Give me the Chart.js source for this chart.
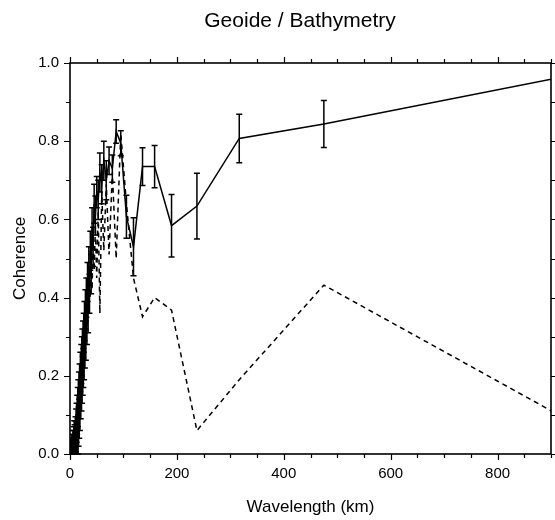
<!DOCTYPE html>
<html>
<head>
<meta charset="utf-8">
<script src="https://cdn.jsdelivr.net/npm/chart.js@4.4.1/dist/chart.umd.min.js"></script>
<style>
  html, body { margin: 0; padding: 0; background: #ffffff; }
  #wrap { width: 555px; height: 520px; }
</style>
</head>
<body>
<div id="wrap"><canvas id="c" width="555" height="520"></canvas></div>
<script>
const chartTitle = 'Geoide / Bathymetry';
// Wavelength (km) of each estimate
const wavelength = [
  950, 475, 316.7, 237.5, 190, 158.3, 135.7, 118.8, 105.6, 95.0,
  86.4, 79.2, 73.1, 67.9, 63.3, 59.4, 55.9, 52.8, 50.0, 47.5,
  45.2, 43.2, 41.3, 39.6, 38.0, 36.5, 35.2, 33.9, 32.8, 31.7,
  30.6, 29.7, 28.8, 27.9, 27.1, 26.4, 25.7, 25.0, 24.4, 23.8,
  23.2, 22.6, 22.1, 21.6, 21.1, 20.2, 19.4, 18.6, 17.9, 17.3,
  16.7, 16.1, 15.6, 15.1, 14.6, 14.0, 13.4, 12.8, 12.3, 11.9,
  11.4, 10.9, 10.4, 10.0, 9.5, 9.0, 8.6, 8.2, 7.8, 7.4,
  7.0, 6.6, 6.2, 5.8, 5.4, 5.0, 4.6, 4.2, 3.8, 3.4,
  3.0, 2.6, 2.2, 1.8, 1.4
];
// Solid curve (with error bars)
const coherence = [
  0.972, 0.844, 0.807, 0.634, 0.584, 0.735, 0.735, 0.53, 0.607, 0.795,
  0.825, 0.73, 0.75, 0.70, 0.75, 0.69, 0.72, 0.65, 0.67, 0.61,
  0.64, 0.53, 0.58, 0.46, 0.52, 0.41, 0.48, 0.36, 0.44, 0.33,
  0.40, 0.29, 0.37, 0.27, 0.34, 0.24, 0.31, 0.22, 0.29, 0.20,
  0.27, 0.18, 0.25, 0.16, 0.23, 0.14, 0.21, 0.11, 0.18, 0.09,
  0.16, 0.07, 0.14, 0.05, 0.12, 0.04, 0.10, 0.02, 0.08, 0.01,
  0.07, 0.00, 0.05, 0.00, 0.04, 0.00, 0.03, 0.00, 0.04, 0.00,
  0.03, 0.00, 0.02, 0.00, 0.02, 0.00, 0.01, 0.00, 0.01, 0.00,
  0.00, 0.00, 0.00, 0.00, 0.00
];
// Half-length of the error bar on the solid curve
const coherenceError = [
  0.06, 0.06, 0.062, 0.084, 0.08, 0.054, 0.048, 0.074, 0.055, 0.032,
  0.03, 0.035, 0.035, 0.05, 0.05, 0.05, 0.05, 0.05, 0.04, 0.05,
  0.05, 0.05, 0.05, 0.05, 0.05, 0.05, 0.05, 0.05, 0.05, 0.05,
  0.05, 0.05, 0.05, 0.05, 0.05, 0.05, 0.05, 0.05, 0.05, 0.05,
  0.05, 0.05, 0.05, 0.05, 0.05, 0.05, 0.05, 0.05, 0.05, 0.05,
  0.05, 0.05, 0.05, 0.05, 0.05, 0.05, 0.05, 0.05, 0.05, 0.05,
  0.045, 0.045, 0.045, 0.045, 0.045, 0.045, 0.045, 0.045, 0.045, 0.045,
  0.04, 0.04, 0.04, 0.04, 0.04, 0.04, 0.04, 0.04, 0.04, 0.04,
  0.04, 0.04, 0.04, 0.04, 0.04
];
// Dashed curve
const coherenceDashed = [
  0.073, 0.432, 0.19, 0.06, 0.368, 0.40, 0.351, 0.45, 0.64, 0.82,
  0.50, 0.72, 0.51, 0.69, 0.52, 0.67, 0.36, 0.62, 0.45, 0.58,
  0.47, 0.55, 0.42, 0.48, 0.40, 0.43, 0.38, 0.39, 0.37, 0.33,
  0.34, 0.32, 0.30, 0.29, 0.28, 0.26, 0.25, 0.24, 0.23, 0.22,
  0.21, 0.20, 0.19, 0.18, 0.17, 0.16, 0.15, 0.13, 0.12, 0.11,
  0.10, 0.09, 0.08, 0.07, 0.07, 0.06, 0.05, 0.04, 0.03, 0.03,
  0.02, 0.01, 0.01, 0.00, 0.00, 0.00, 0.00, 0.00, 0.00, 0.00,
  0.00, 0.00, 0.00, 0.00, 0.00, 0.00, 0.00, 0.00, 0.00, 0.00,
  0.00, 0.00, 0.00, 0.00, 0.00
];
const xTickLabels = [0, 200, 400, 600, 800];
const yTickLabels = [0.0, 0.2, 0.4, 0.6, 0.8, 1.0];

const FONT = "'Liberation Sans', Arial, Helvetica, sans-serif";

const solidPts = wavelength.map((w, i) => ({ x: w, y: coherence[i] }));
const dashedPts = wavelength.map((w, i) => ({ x: w, y: coherenceDashed[i] }));

const errorBarPlugin = {
  id: 'errorBars',
  afterDatasetsDraw(chart) {
    const { ctx, chartArea, scales } = chart;
    const xs = scales.x, ys = scales.y;
    ctx.save();
    ctx.beginPath();
    ctx.rect(chartArea.left, chartArea.top - 1, chartArea.right - chartArea.left, chartArea.bottom - chartArea.top + 2);
    ctx.clip();
    ctx.strokeStyle = '#000';
    ctx.lineWidth = 1.5;
    const cap = 3;
    for (let i = 0; i < wavelength.length; i++) {
      const px = xs.getPixelForValue(wavelength[i]);
      const yt = ys.getPixelForValue(coherence[i] + coherenceError[i]);
      const yb = ys.getPixelForValue(coherence[i] - coherenceError[i]);
      ctx.beginPath();
      ctx.moveTo(px, yt); ctx.lineTo(px, yb);
      ctx.moveTo(px - cap, yt); ctx.lineTo(px + cap, yt);
      ctx.moveTo(px - cap, yb); ctx.lineTo(px + cap, yb);
      ctx.stroke();
    }
    ctx.restore();
  }
};

const framePlugin = {
  id: 'frame',
  afterDraw(chart) {
    const { ctx, chartArea: a, scales } = chart;
    const xs = scales.x, ys = scales.y;
    ctx.save();
    ctx.strokeStyle = '#000';
    ctx.lineWidth = 1.6;
    ctx.strokeRect(a.left, a.top, a.right - a.left, a.bottom - a.top);
    ctx.lineWidth = 1.2;
    ctx.beginPath();
    for (let v = 0; v <= 900; v += 50) {
      const px = Math.round(xs.getPixelForValue(v)) + 0.5;
      const len = (v % 200 === 0) ? 6 : 4;
      ctx.moveTo(px, a.bottom); ctx.lineTo(px, a.bottom + len);
      ctx.moveTo(px, a.top); ctx.lineTo(px, a.top - len);
    }
    for (let k = 0; k <= 10; k++) {
      const py = Math.round(ys.getPixelForValue(k / 10)) + 0.5;
      const len = (k % 2 === 0) ? 6 : 4;
      ctx.moveTo(a.left, py); ctx.lineTo(a.left - len, py);
      ctx.moveTo(a.right, py); ctx.lineTo(a.right + len, py);
    }
    ctx.stroke();
    // chart title, centred like the reference
    ctx.fillStyle = '#000';
    ctx.font = '21px ' + FONT;
    ctx.textAlign = 'center';
    ctx.textBaseline = 'alphabetic';
    ctx.fillText(chartTitle, 300, 27);
    ctx.restore();
  }
};

new Chart(document.getElementById('c'), {
  type: 'scatter',
  data: {
    datasets: [
      {
        label: 'Coherence',
        data: solidPts,
        showLine: true,
        borderColor: '#000',
        borderWidth: 1.5,
        pointRadius: 0,
        tension: 0,
        clip: 0
      },
      {
        label: 'Dashed',
        data: dashedPts,
        showLine: true,
        borderColor: '#000',
        borderWidth: 1.5,
        borderDash: [5, 4],
        pointRadius: 0,
        tension: 0,
        clip: 0
      }
    ]
  },
  options: {
    responsive: false,
    animation: false,
    devicePixelRatio: 1,
    layout: { padding: { left: 0, right: 4, top: 63, bottom: 0 } },
    plugins: {
      legend: { display: false },
      tooltip: { enabled: false },
      title: { display: false }
    },
    scales: {
      x: {
        type: 'linear',
        min: 0, max: 900,
        afterBuildTicks(s) { s.ticks = xTickLabels.map(v => ({ value: v })); },
        afterFit(s) { s.height = 66; },
        grid: { display: false, drawTicks: false },
        border: { display: false },
        ticks: {
          color: '#000',
          font: { family: FONT, size: 15 },
          padding: 11,
          maxRotation: 0,
          autoSkip: false,
          callback: v => String(v)
        },
        title: {
          display: true,
          text: 'Wavelength (km)',
          color: '#000',
          font: { family: FONT, size: 17 },
          padding: { top: 0, bottom: 2 }
        }
      },
      y: {
        type: 'linear',
        min: 0, max: 1,
        afterBuildTicks(s) { s.ticks = yTickLabels.map(v => ({ value: v })); },
        afterFit(s) { s.width = 70; },
        grid: { display: false, drawTicks: false },
        border: { display: false },
        ticks: {
          color: '#000',
          font: { family: FONT, size: 15 },
          padding: 11,
          autoSkip: false,
          callback: v => Number(v).toFixed(1)
        },
        title: {
          display: true,
          text: 'Coherence',
          color: '#000',
          font: { family: FONT, size: 17 },
          padding: { top: 10, bottom: 0 }
        }
      }
    }
  },
  plugins: [errorBarPlugin, framePlugin]
});
</script>
</body>
</html>
